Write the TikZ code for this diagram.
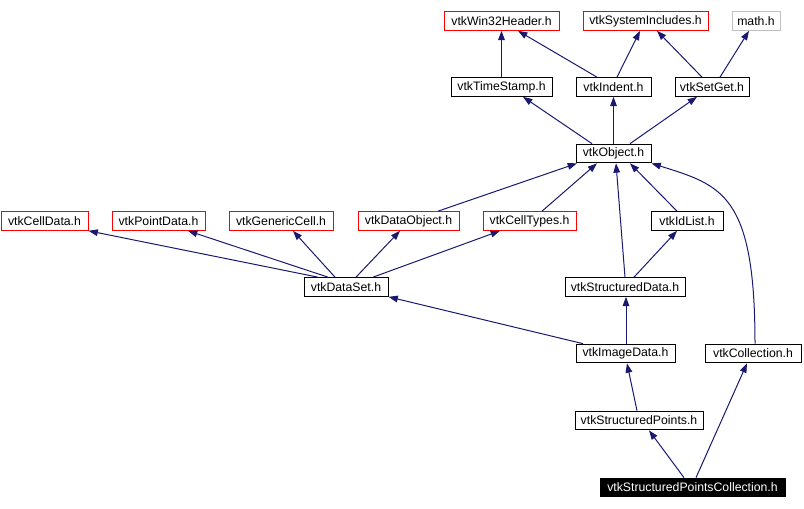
\documentclass[tikz,border=0pt]{standalone}
\usepackage{fontspec}
\setmainfont{Liberation Sans}
\usepackage{tikz}
\usetikzlibrary{arrows.meta,calc,positioning}
\definecolor{midblue}{rgb}{0.1,0.1,0.44}
\definecolor{hdrred}{rgb}{1,0,0}
\definecolor{hdrgray}{rgb}{0.75,0.75,0.75}

\tikzset{
  hdr/.style={draw=black, line width=0.75pt, fill=white, inner sep=0pt,
    minimum height=14pt, minimum width=#1*0.75pt,
    font=\fontsize{9.2}{10}\selectfont},
  extern/.style={hdr=#1, draw=hdrred},
  incl/.style={draw=midblue, line width=0.75pt, -{Triangle[length=7pt,width=5pt]}}
}

\begin{document}
\begin{tikzpicture}[x=0.75pt,y=-0.75pt]
      % Fix the page size
      \useasboundingbox (0,0) rectangle (804,509);
      % Top row of headers
      \node[extern=115] (win32) at (501.5,21) {vtkWin32Header.h};
      \node[extern=125] (sysinc) at (645.5,21) {vtkSystemIncludes.h};
      \node[hdr=48, draw=hdrgray] (math) at (756,21) {math.h};
      % Second row
      \node[hdr=101] (tstamp) at (501.5,87) {vtkTimeStamp.h};
      \node[hdr=75] (indent) at (613.5,87) {vtkIndent.h};
      \node[hdr=74] (setget) at (712,87) {vtkSetGet.h};
      \node[hdr=75] (object) at (613.5,153.5) {vtkObject.h};
      % Row of cell and data headers
      \node[extern=87] (celldata) at (44.5,221) {vtkCellData.h};
      \node[extern=93] (pointdata) at (158.5,221) {vtkPointData.h};
      \node[extern=104] (gencell) at (281,221) {vtkGenericCell.h};
      \node[extern=101] (dataobj) at (408.5,221) {vtkDataObject.h};
      \node[extern=93] (celltypes) at (529.5,221) {vtkCellTypes.h};
      \node[hdr=72] (idlist) at (687,221) {vtkIdList.h};
      % Data sets
      \node[hdr=84] (dataset) at (346,287) {vtkDataSet.h};
      \node[hdr=120] (structdata) at (625,287) {vtkStructuredData.h};
      \node[hdr=99] (imagedata) at (625.5,353.5) {vtkImageData.h};
      \node[hdr=96] (collection) at (753,353.5) {vtkCollection.h};
      \node[hdr=128] (structpts) at (639,420.5) {vtkStructuredPoints.h};
      \node[hdr=185, fill=black, text=white] (spc) at (692.5,487.5) {vtkStructuredPointsCollection.h};
      % Include arrows, upper part
      \draw[incl] (tstamp.north) -- (win32.south);
      \draw[incl] ($(indent.north)+(-16.5,0)$) -- ($(win32.south)+(16.5,0)$);
      \draw[incl] ($(indent.north)+(3.5,0)$) -- ($(sysinc.south)+(-5.5,0)$);
      \draw[incl] ($(setget.north)+(-10,0)$) -- ($(sysinc.south)+(11.5,0)$);
      \draw[incl] ($(setget.north)+(8,0)$) -- ($(math.south)+(-7,0)$);
      \draw[incl] ($(object.north)+(-21.5,0)$) -- ($(tstamp.south)+(21.5,0)$);
      \draw[incl] (object.north) -- (indent.south);
      \draw[incl] ($(object.north)+(16.5,0)$) -- ($(setget.south)+(-15,0)$);
      % Arrows into vtkObject.h
      \draw[incl] ($(dataobj.north)+(29.5,0)$) -- ($(object.south)+(-36.5,0)$);
      \draw[incl] ($(celltypes.north)+(12.5,0)$) -- ($(object.south)+(-16.5,0)$);
      \draw[incl] (structdata.north) -- ($(object.south)+(2.5,0)$);
      \draw[incl] ($(idlist.north)+(-10,0)$) -- ($(object.south)+(16.5,0)$);
      \draw[incl] ($(collection.north)+(2,0)$) .. controls +(0,-150) and +(70,22) .. (object.south east);
      % Arrows out of vtkDataSet.h
      \draw[incl] ($(dataset.north)+(-28,0)$) -- (celldata.south east);
      \draw[incl] ($(dataset.north)+(-18,0)$) -- ($(pointdata.south)+(29.5,0)$);
      \draw[incl] ($(dataset.north)+(-11,0)$) -- ($(gencell.south)+(12,0)$);
      \draw[incl] ($(dataset.north)+(10,0)$) -- ($(dataobj.south)+(-8.5,0)$);
      \draw[incl] ($(dataset.north)+(27,0)$) -- ($(celltypes.south)+(-29.5,0)$);
      % Lower part
      \draw[incl] ($(imagedata.north)+(-42.5,0)$) -- (dataset.south east);
      \draw[incl] ($(structdata.north)+(9,0)$) -- ($(idlist.south)+(-10,0)$);
      \draw[incl] ($(imagedata.north)+(0.5,0)$) -- ($(structdata.south)+(1,0)$);
      \draw[incl] ($(structpts.north)+(-2,0)$) -- ($(imagedata.south)+(1.5,0)$);
      \draw[incl] ($(spc.north)+(-8.5,0)$) -- ($(structpts.south)+(10,0)$);
      \draw[incl] ($(spc.north)+(3.5,0)$) -- ($(collection.south)+(-6,0)$);
\end{tikzpicture}
\end{document}
